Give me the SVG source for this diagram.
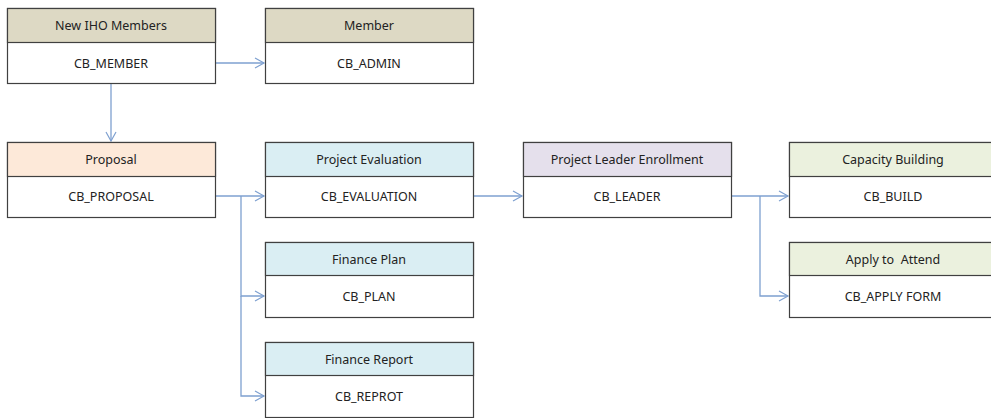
<svg xmlns="http://www.w3.org/2000/svg" width="991" height="418" viewBox="0 0 991 418">
<defs>
<marker id="arr" markerWidth="12" markerHeight="12" refX="10" refY="6" orient="auto" markerUnits="userSpaceOnUse">
<path d="M1,1 L10,6 L1,11" fill="none" stroke="#7ea0d0" stroke-width="1.2"/>
</marker>
<style>
.box{fill:#fff;stroke:#404040;stroke-width:1.2}
.hd{stroke:#404040;stroke-width:1.2}
.t{font-family:"Noto Sans","Open Sans",sans-serif;font-size:12.5px;fill:#222;text-anchor:middle}
.c{fill:none;stroke:#7ea0d0;stroke-width:1.3}
</style>
</defs>
<rect width="991" height="418" fill="#fff"/>
<g id="connectors">
<path class="c" d="M215,63 H264" marker-end="url(#arr)"/>
<path class="c" d="M111,83 V141" marker-end="url(#arr)"/>
<path class="c" d="M215,196 H264" marker-end="url(#arr)"/>
<path class="c" d="M241,196 V296 H264" marker-end="url(#arr)"/>
<path class="c" d="M241,296 V396 H264" marker-end="url(#arr)"/>
<path class="c" d="M473,196 H522" marker-end="url(#arr)"/>
<path class="c" d="M731,196 H788" marker-end="url(#arr)"/>
<path class="c" d="M760,196 V296 H788" marker-end="url(#arr)"/>
</g>
<g id="n_member">
<rect class="box" x="7.5" y="8.5" width="208" height="75"/>
<rect class="hd" x="7.5" y="8.5" width="208" height="34" fill="#ddd9c4"/>
<text class="t" x="111" y="30">New IHO Members</text>
<text class="t" x="111" y="68">CB_MEMBER</text>
</g>
<g id="n_admin">
<rect class="box" x="265.5" y="8.5" width="208" height="75"/>
<rect class="hd" x="265.5" y="8.5" width="208" height="34" fill="#ddd9c4"/>
<text class="t" x="369" y="30">Member</text>
<text class="t" x="369" y="68">CB_ADMIN</text>
</g>
<g id="n_proposal">
<rect class="box" x="7.5" y="142.5" width="208" height="75"/>
<rect class="hd" x="7.5" y="142.5" width="208" height="34" fill="#fde9d9"/>
<text class="t" x="111" y="164">Proposal</text>
<text class="t" x="111" y="201">CB_PROPOSAL</text>
</g>
<g id="n_eval">
<rect class="box" x="265.5" y="142.5" width="208" height="75"/>
<rect class="hd" x="265.5" y="142.5" width="208" height="34" fill="#daeef3"/>
<text class="t" x="369" y="164">Project Evaluation</text>
<text class="t" x="369" y="201">CB_EVALUATION</text>
</g>
<g id="n_plan">
<rect class="box" x="265.5" y="242.5" width="208" height="75"/>
<rect class="hd" x="265.5" y="242.5" width="208" height="33" fill="#daeef3"/>
<text class="t" x="369" y="264">Finance Plan</text>
<text class="t" x="369" y="301">CB_PLAN</text>
</g>
<g id="n_report">
<rect class="box" x="265.5" y="342.5" width="208" height="75"/>
<rect class="hd" x="265.5" y="342.5" width="208" height="33" fill="#daeef3"/>
<text class="t" x="369" y="364">Finance Report</text>
<text class="t" x="369" y="401">CB_REPROT</text>
</g>
<g id="n_leader">
<rect class="box" x="523.5" y="142.5" width="208" height="75"/>
<rect class="hd" x="523.5" y="142.5" width="208" height="34" fill="#e5e0ec"/>
<text class="t" x="627" y="164">Project Leader Enrollment</text>
<text class="t" x="627" y="201">CB_LEADER</text>
</g>
<g id="n_build">
<rect class="box" x="789.5" y="142.5" width="208" height="75"/>
<rect class="hd" x="789.5" y="142.5" width="208" height="34" fill="#ebf1de"/>
<text class="t" x="893" y="164">Capacity Building</text>
<text class="t" x="893" y="201">CB_BUILD</text>
</g>
<g id="n_apply">
<rect class="box" x="789.5" y="242.5" width="208" height="75"/>
<rect class="hd" x="789.5" y="242.5" width="208" height="33" fill="#ebf1de"/>
<text class="t" x="893" y="264" xml:space="preserve">Apply to  Attend</text>
<text class="t" x="893" y="301">CB_APPLY FORM</text>
</g>
</svg>
